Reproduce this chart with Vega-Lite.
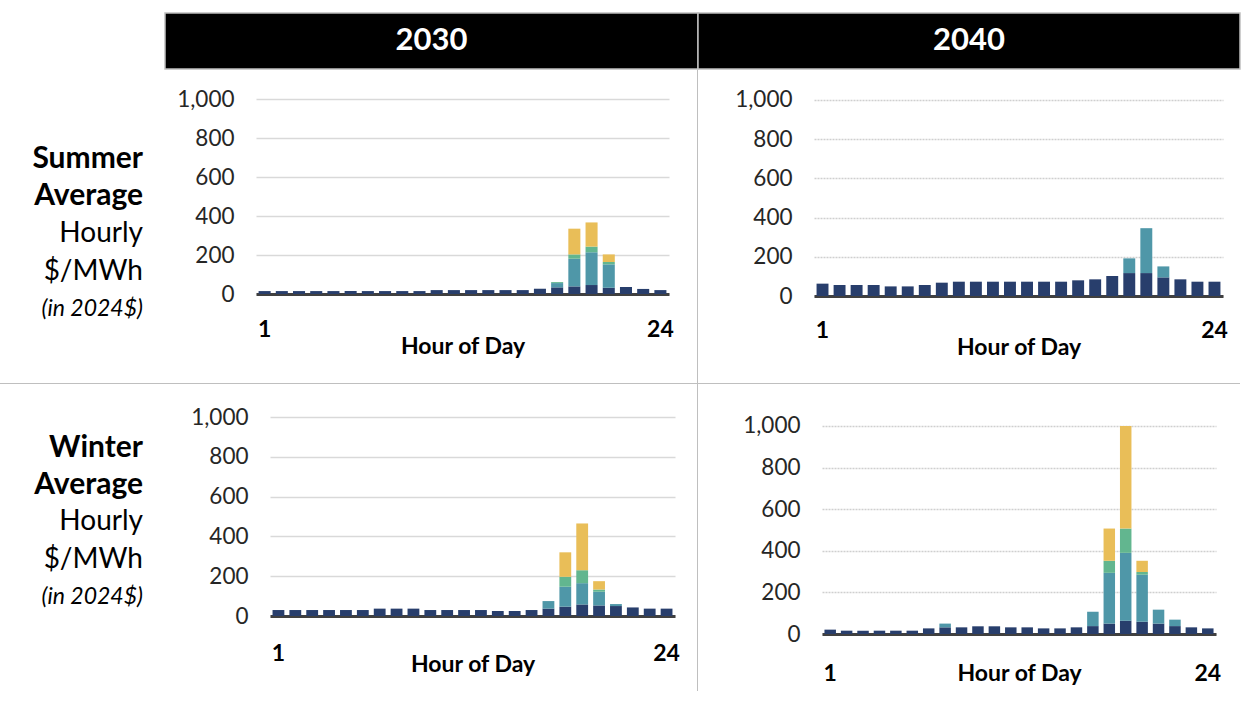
{
  "$schema": "https://vega.github.io/schema/vega-lite/v6.json",
  "padding": {"left": 0, "top": 12, "right": 0, "bottom": 0},
  "autosize": {"type": "pad"},
  "background": "white",
  "config": {
    "font": "Lato",
    "view": {"stroke": null},
    "axisX": {"labelFontSize": 23, "labelFontWeight": "bold", "labelColor": "#000000", "labelAngle": 0, "ticks": false, "grid": false, "domainColor": "#404040", "domainWidth": 3, "titleFontSize": 23, "titleFontWeight": "bold", "titleColor": "#000000", "zindex": 1},
    "axisY": {"labelFontSize": 22.5, "labelColor": "#262626", "labelPadding": 22, "ticks": false, "domain": false, "gridColor": "#D9D9D9", "gridWidth": 1.5}
  },
  "datasets": {
    "headers": [{"year": "2030"}, {"year": "2040"}],
    "rowlabels": [
      {"row": "Summer", "line": 1, "text": "Summer", "part": "head"},
      {"row": "Summer", "line": 2, "text": "Average", "part": "head"},
      {"row": "Summer", "line": 3, "text": "Hourly", "part": "unit"},
      {"row": "Summer", "line": 4, "text": "$/MWh", "part": "unit"},
      {"row": "Summer", "line": 5, "text": "(in 2024$)", "part": "note"},
      {"row": "Winter", "line": 1, "text": "Winter", "part": "head"},
      {"row": "Winter", "line": 2, "text": "Average", "part": "head"},
      {"row": "Winter", "line": 3, "text": "Hourly", "part": "unit"},
      {"row": "Winter", "line": 4, "text": "$/MWh", "part": "unit"},
      {"row": "Winter", "line": 5, "text": "(in 2024$)", "part": "note"}
    ],
    "prices": [
      {"panel": "Summer 2030", "hour": 1, "component": "Base Energy", "value": 15},
      {"panel": "Summer 2030", "hour": 2, "component": "Base Energy", "value": 15},
      {"panel": "Summer 2030", "hour": 3, "component": "Base Energy", "value": 15},
      {"panel": "Summer 2030", "hour": 4, "component": "Base Energy", "value": 15},
      {"panel": "Summer 2030", "hour": 5, "component": "Base Energy", "value": 15},
      {"panel": "Summer 2030", "hour": 6, "component": "Base Energy", "value": 15},
      {"panel": "Summer 2030", "hour": 7, "component": "Base Energy", "value": 15},
      {"panel": "Summer 2030", "hour": 8, "component": "Base Energy", "value": 15},
      {"panel": "Summer 2030", "hour": 9, "component": "Base Energy", "value": 15},
      {"panel": "Summer 2030", "hour": 10, "component": "Base Energy", "value": 15},
      {"panel": "Summer 2030", "hour": 11, "component": "Base Energy", "value": 20},
      {"panel": "Summer 2030", "hour": 12, "component": "Base Energy", "value": 20},
      {"panel": "Summer 2030", "hour": 13, "component": "Base Energy", "value": 20},
      {"panel": "Summer 2030", "hour": 14, "component": "Base Energy", "value": 20},
      {"panel": "Summer 2030", "hour": 15, "component": "Base Energy", "value": 20},
      {"panel": "Summer 2030", "hour": 16, "component": "Base Energy", "value": 20},
      {"panel": "Summer 2030", "hour": 17, "component": "Base Energy", "value": 27},
      {"panel": "Summer 2030", "hour": 18, "component": "Base Energy", "value": 34},
      {"panel": "Summer 2030", "hour": 18, "component": "Capacity", "value": 22},
      {"panel": "Summer 2030", "hour": 18, "component": "Reserves", "value": 5},
      {"panel": "Summer 2030", "hour": 19, "component": "Base Energy", "value": 39},
      {"panel": "Summer 2030", "hour": 19, "component": "Capacity", "value": 142},
      {"panel": "Summer 2030", "hour": 19, "component": "Reserves", "value": 22},
      {"panel": "Summer 2030", "hour": 19, "component": "Scarcity", "value": 132},
      {"panel": "Summer 2030", "hour": 20, "component": "Base Energy", "value": 46},
      {"panel": "Summer 2030", "hour": 20, "component": "Capacity", "value": 168},
      {"panel": "Summer 2030", "hour": 20, "component": "Reserves", "value": 29},
      {"panel": "Summer 2030", "hour": 20, "component": "Scarcity", "value": 124},
      {"panel": "Summer 2030", "hour": 21, "component": "Base Energy", "value": 32},
      {"panel": "Summer 2030", "hour": 21, "component": "Capacity", "value": 120},
      {"panel": "Summer 2030", "hour": 21, "component": "Reserves", "value": 12},
      {"panel": "Summer 2030", "hour": 21, "component": "Scarcity", "value": 39},
      {"panel": "Summer 2030", "hour": 22, "component": "Base Energy", "value": 36},
      {"panel": "Summer 2030", "hour": 23, "component": "Base Energy", "value": 26},
      {"panel": "Summer 2030", "hour": 24, "component": "Base Energy", "value": 20},

      {"panel": "Summer 2040", "hour": 1, "component": "Base Energy", "value": 63},
      {"panel": "Summer 2040", "hour": 2, "component": "Base Energy", "value": 56},
      {"panel": "Summer 2040", "hour": 3, "component": "Base Energy", "value": 56},
      {"panel": "Summer 2040", "hour": 4, "component": "Base Energy", "value": 56},
      {"panel": "Summer 2040", "hour": 5, "component": "Base Energy", "value": 49},
      {"panel": "Summer 2040", "hour": 6, "component": "Base Energy", "value": 49},
      {"panel": "Summer 2040", "hour": 7, "component": "Base Energy", "value": 56},
      {"panel": "Summer 2040", "hour": 8, "component": "Base Energy", "value": 68},
      {"panel": "Summer 2040", "hour": 9, "component": "Base Energy", "value": 73},
      {"panel": "Summer 2040", "hour": 10, "component": "Base Energy", "value": 73},
      {"panel": "Summer 2040", "hour": 11, "component": "Base Energy", "value": 73},
      {"panel": "Summer 2040", "hour": 12, "component": "Base Energy", "value": 73},
      {"panel": "Summer 2040", "hour": 13, "component": "Base Energy", "value": 73},
      {"panel": "Summer 2040", "hour": 14, "component": "Base Energy", "value": 73},
      {"panel": "Summer 2040", "hour": 15, "component": "Base Energy", "value": 73},
      {"panel": "Summer 2040", "hour": 16, "component": "Base Energy", "value": 80},
      {"panel": "Summer 2040", "hour": 17, "component": "Base Energy", "value": 85},
      {"panel": "Summer 2040", "hour": 18, "component": "Base Energy", "value": 102},
      {"panel": "Summer 2040", "hour": 19, "component": "Base Energy", "value": 117},
      {"panel": "Summer 2040", "hour": 19, "component": "Capacity", "value": 75},
      {"panel": "Summer 2040", "hour": 20, "component": "Base Energy", "value": 117},
      {"panel": "Summer 2040", "hour": 20, "component": "Capacity", "value": 229},
      {"panel": "Summer 2040", "hour": 21, "component": "Base Energy", "value": 95},
      {"panel": "Summer 2040", "hour": 21, "component": "Capacity", "value": 56},
      {"panel": "Summer 2040", "hour": 22, "component": "Base Energy", "value": 85},
      {"panel": "Summer 2040", "hour": 23, "component": "Base Energy", "value": 73},
      {"panel": "Summer 2040", "hour": 24, "component": "Base Energy", "value": 73},

      {"panel": "Winter 2030", "hour": 1, "component": "Base Energy", "value": 30},
      {"panel": "Winter 2030", "hour": 2, "component": "Base Energy", "value": 30},
      {"panel": "Winter 2030", "hour": 3, "component": "Base Energy", "value": 30},
      {"panel": "Winter 2030", "hour": 4, "component": "Base Energy", "value": 30},
      {"panel": "Winter 2030", "hour": 5, "component": "Base Energy", "value": 30},
      {"panel": "Winter 2030", "hour": 6, "component": "Base Energy", "value": 30},
      {"panel": "Winter 2030", "hour": 7, "component": "Base Energy", "value": 37},
      {"panel": "Winter 2030", "hour": 8, "component": "Base Energy", "value": 37},
      {"panel": "Winter 2030", "hour": 9, "component": "Base Energy", "value": 37},
      {"panel": "Winter 2030", "hour": 10, "component": "Base Energy", "value": 30},
      {"panel": "Winter 2030", "hour": 11, "component": "Base Energy", "value": 30},
      {"panel": "Winter 2030", "hour": 12, "component": "Base Energy", "value": 30},
      {"panel": "Winter 2030", "hour": 13, "component": "Base Energy", "value": 30},
      {"panel": "Winter 2030", "hour": 14, "component": "Base Energy", "value": 25},
      {"panel": "Winter 2030", "hour": 15, "component": "Base Energy", "value": 25},
      {"panel": "Winter 2030", "hour": 16, "component": "Base Energy", "value": 30},
      {"panel": "Winter 2030", "hour": 17, "component": "Base Energy", "value": 37},
      {"panel": "Winter 2030", "hour": 17, "component": "Capacity", "value": 38},
      {"panel": "Winter 2030", "hour": 18, "component": "Base Energy", "value": 47},
      {"panel": "Winter 2030", "hour": 18, "component": "Capacity", "value": 100},
      {"panel": "Winter 2030", "hour": 18, "component": "Reserves", "value": 50},
      {"panel": "Winter 2030", "hour": 18, "component": "Scarcity", "value": 123},
      {"panel": "Winter 2030", "hour": 19, "component": "Base Energy", "value": 58},
      {"panel": "Winter 2030", "hour": 19, "component": "Capacity", "value": 107},
      {"panel": "Winter 2030", "hour": 19, "component": "Reserves", "value": 65},
      {"panel": "Winter 2030", "hour": 19, "component": "Scarcity", "value": 235},
      {"panel": "Winter 2030", "hour": 20, "component": "Base Energy", "value": 53},
      {"panel": "Winter 2030", "hour": 20, "component": "Capacity", "value": 69},
      {"panel": "Winter 2030", "hour": 20, "component": "Reserves", "value": 11},
      {"panel": "Winter 2030", "hour": 20, "component": "Scarcity", "value": 42},
      {"panel": "Winter 2030", "hour": 21, "component": "Base Energy", "value": 50},
      {"panel": "Winter 2030", "hour": 21, "component": "Capacity", "value": 10},
      {"panel": "Winter 2030", "hour": 22, "component": "Base Energy", "value": 43},
      {"panel": "Winter 2030", "hour": 23, "component": "Base Energy", "value": 37},
      {"panel": "Winter 2030", "hour": 24, "component": "Base Energy", "value": 37},

      {"panel": "Winter 2040", "hour": 1, "component": "Base Energy", "value": 21},
      {"panel": "Winter 2040", "hour": 2, "component": "Base Energy", "value": 16},
      {"panel": "Winter 2040", "hour": 3, "component": "Base Energy", "value": 16},
      {"panel": "Winter 2040", "hour": 4, "component": "Base Energy", "value": 16},
      {"panel": "Winter 2040", "hour": 5, "component": "Base Energy", "value": 16},
      {"panel": "Winter 2040", "hour": 6, "component": "Base Energy", "value": 16},
      {"panel": "Winter 2040", "hour": 7, "component": "Base Energy", "value": 27},
      {"panel": "Winter 2040", "hour": 8, "component": "Base Energy", "value": 32},
      {"panel": "Winter 2040", "hour": 8, "component": "Capacity", "value": 18},
      {"panel": "Winter 2040", "hour": 9, "component": "Base Energy", "value": 32},
      {"panel": "Winter 2040", "hour": 10, "component": "Base Energy", "value": 37},
      {"panel": "Winter 2040", "hour": 11, "component": "Base Energy", "value": 37},
      {"panel": "Winter 2040", "hour": 12, "component": "Base Energy", "value": 32},
      {"panel": "Winter 2040", "hour": 13, "component": "Base Energy", "value": 32},
      {"panel": "Winter 2040", "hour": 14, "component": "Base Energy", "value": 27},
      {"panel": "Winter 2040", "hour": 15, "component": "Base Energy", "value": 27},
      {"panel": "Winter 2040", "hour": 16, "component": "Base Energy", "value": 32},
      {"panel": "Winter 2040", "hour": 17, "component": "Base Energy", "value": 38},
      {"panel": "Winter 2040", "hour": 17, "component": "Capacity", "value": 69},
      {"panel": "Winter 2040", "hour": 18, "component": "Base Energy", "value": 50},
      {"panel": "Winter 2040", "hour": 18, "component": "Capacity", "value": 244},
      {"panel": "Winter 2040", "hour": 18, "component": "Reserves", "value": 58},
      {"panel": "Winter 2040", "hour": 18, "component": "Scarcity", "value": 155},
      {"panel": "Winter 2040", "hour": 19, "component": "Base Energy", "value": 64},
      {"panel": "Winter 2040", "hour": 19, "component": "Capacity", "value": 326},
      {"panel": "Winter 2040", "hour": 19, "component": "Reserves", "value": 117},
      {"panel": "Winter 2040", "hour": 19, "component": "Scarcity", "value": 493},
      {"panel": "Winter 2040", "hour": 20, "component": "Base Energy", "value": 59},
      {"panel": "Winter 2040", "hour": 20, "component": "Capacity", "value": 226},
      {"panel": "Winter 2040", "hour": 20, "component": "Reserves", "value": 13},
      {"panel": "Winter 2040", "hour": 20, "component": "Scarcity", "value": 54},
      {"panel": "Winter 2040", "hour": 21, "component": "Base Energy", "value": 50},
      {"panel": "Winter 2040", "hour": 21, "component": "Capacity", "value": 67},
      {"panel": "Winter 2040", "hour": 22, "component": "Base Energy", "value": 38},
      {"panel": "Winter 2040", "hour": 22, "component": "Capacity", "value": 31},
      {"panel": "Winter 2040", "hour": 23, "component": "Base Energy", "value": 32},
      {"panel": "Winter 2040", "hour": 24, "component": "Base Energy", "value": 27}
    ]
  },
  "vconcat": [
    {
      "hconcat": [
        {"width": 165, "height": 56, "data": {"values": [{}]}, "mark": {"type": "rect", "opacity": 0}, "encoding": {}},
        {"width": 533, "height": 56, "view": {"fill": "#000000", "stroke": "#BFBFBF", "strokeWidth": 1.5}, "data": {"name": "headers"}, "transform": [{"filter": "datum.year == '2030'"}], "mark": {"type": "text", "color": "#FFFFFF", "fontSize": 31, "fontWeight": "bold"}, "encoding": {"text": {"field": "year"}}},
        {"width": 542, "height": 56, "view": {"fill": "#000000", "stroke": "#BFBFBF", "strokeWidth": 1.5}, "data": {"name": "headers"}, "transform": [{"filter": "datum.year == '2040'"}], "mark": {"type": "text", "color": "#FFFFFF", "fontSize": 31, "fontWeight": "bold"}, "encoding": {"text": {"field": "year"}}}
      ],
      "spacing": 0,
      "bounds": "flush"
    },
    {
      "hconcat": [
        {"width": 143, "height": 313, "data": {"name": "rowlabels"}, "transform": [{"filter": "datum.row == 'Summer'"}],
         "encoding": {"y": {"field": "line", "type": "quantitative", "scale": {"domain": [-1.3733, 6.9733], "reverse": true, "nice": false, "zero": false}, "axis": null}, "x": {"datum": 1, "type": "quantitative", "scale": {"domain": [0, 1]}, "axis": null}, "text": {"field": "text"}},
         "layer": [
           {"transform": [{"filter": "datum.part == 'head'"}], "mark": {"type": "text", "align": "right", "fontSize": 30, "fontWeight": "bold", "color": "#000000"}},
           {"transform": [{"filter": "datum.part == 'unit'"}], "mark": {"type": "text", "align": "right", "fontSize": 28, "color": "#000000"}},
           {"transform": [{"filter": "datum.part == 'note'"}], "mark": {"type": "text", "align": "right", "fontSize": 23, "fontStyle": "italic", "color": "#000000"}}
         ]},
        {"width": 113, "height": 1, "data": {"values": [{}]}, "mark": {"type": "rect", "opacity": 0}, "encoding": {}},
        {"width": 413, "height": 224, "data": {"name": "prices"}, "transform": [{"filter": "datum.panel == 'Summer 2030'"}], "mark": {"type": "bar"},
         "encoding": {
           "x": {"field": "hour", "type": "ordinal", "scale": {"domain": [1,2,3,4,5,6,7,8,9,10,11,12,13,14,15,16,17,18,19,20,21,22,23,24], "paddingInner": 0.3, "paddingOuter": 0.15}, "axis": {"values": [1, 24], "labelPadding": 24, "titlePadding": -6, "title": "Hour of Day"}},
           "y": {"field": "value", "type": "quantitative", "stack": "zero", "scale": {"domain": [0, 1148.72], "nice": false}, "axis": {"values": [0, 200, 400, 600, 800, 1000], "format": ",.0f", "title": null}},
           "color": {"field": "component", "type": "nominal", "scale": {"domain": ["Base Energy", "Capacity", "Reserves", "Scarcity"], "range": ["#283E6C", "#4F97A8", "#62B68F", "#E9BE58"]}, "legend": null},
           "order": {"field": "component", "sort": "ascending"}
         }},
        {"width": 28, "height": 1, "data": {"values": [{}]}, "mark": {"type": "rect", "opacity": 0}, "encoding": {}},
        {"width": 1, "height": 313, "view": {"fill": "#BFBFBF"}, "data": {"values": [{}]}, "mark": {"type": "rect", "opacity": 0}, "encoding": {}},
        {"width": 116, "height": 1, "data": {"values": [{}]}, "mark": {"type": "rect", "opacity": 0}, "encoding": {}},
        {"width": 409, "height": 226, "data": {"name": "prices"}, "transform": [{"filter": "datum.panel == 'Summer 2040'"}], "mark": {"type": "bar"},
         "encoding": {
           "x": {"field": "hour", "type": "ordinal", "scale": {"domain": [1,2,3,4,5,6,7,8,9,10,11,12,13,14,15,16,17,18,19,20,21,22,23,24], "paddingInner": 0.3, "paddingOuter": 0.15}, "axis": {"values": [1, 24], "labelPadding": 23, "titlePadding": -6, "title": "Hour of Day"}},
           "y": {"field": "value", "type": "quantitative", "stack": "zero", "scale": {"domain": [0, 1153.06], "nice": false}, "axis": {"values": [0, 200, 400, 600, 800, 1000], "format": ",.0f", "title": null, "gridDash": [2, 1], "gridColor": "#CFCFCF"}},
           "color": {"field": "component", "type": "nominal", "scale": {"domain": ["Base Energy", "Capacity", "Reserves", "Scarcity"], "range": ["#283E6C", "#4F97A8", "#62B68F", "#E9BE58"]}, "legend": null},
           "order": {"field": "component", "sort": "ascending"}
         }}
      ],
      "spacing": 0,
      "bounds": "flush"
    },
    {"width": 1240, "height": 1, "view": {"fill": "#BFBFBF"}, "data": {"values": [{}]}, "mark": {"type": "rect", "opacity": 0}, "encoding": {}},
    {
      "hconcat": [
        {"width": 143, "height": 307, "data": {"name": "rowlabels"}, "transform": [{"filter": "datum.row == 'Winter'"}],
         "encoding": {"y": {"field": "line", "type": "quantitative", "scale": {"domain": [-0.7181, 7.5235], "reverse": true, "nice": false, "zero": false}, "axis": null}, "x": {"datum": 1, "type": "quantitative", "scale": {"domain": [0, 1]}, "axis": null}, "text": {"field": "text"}},
         "layer": [
           {"transform": [{"filter": "datum.part == 'head'"}], "mark": {"type": "text", "align": "right", "fontSize": 30, "fontWeight": "bold", "color": "#000000"}},
           {"transform": [{"filter": "datum.part == 'unit'"}], "mark": {"type": "text", "align": "right", "fontSize": 28, "color": "#000000"}},
           {"transform": [{"filter": "datum.part == 'note'"}], "mark": {"type": "text", "align": "right", "fontSize": 23, "fontStyle": "italic", "color": "#000000"}}
         ]},
        {"width": 127, "height": 1, "data": {"values": [{}]}, "mark": {"type": "rect", "opacity": 0}, "encoding": {}},
        {"width": 405, "height": 232, "data": {"name": "prices"}, "transform": [{"filter": "datum.panel == 'Winter 2030'"}], "mark": {"type": "bar"},
         "encoding": {
           "x": {"field": "hour", "type": "ordinal", "scale": {"domain": [1,2,3,4,5,6,7,8,9,10,11,12,13,14,15,16,17,18,19,20,21,22,23,24], "paddingInner": 0.3, "paddingOuter": 0.15}, "axis": {"values": [1, 24], "labelPadding": 26, "titlePadding": -12, "title": "Hour of Day"}},
           "y": {"field": "value", "type": "quantitative", "stack": "zero", "scale": {"domain": [0, 1165.83], "nice": false}, "axis": {"values": [0, 200, 400, 600, 800, 1000], "format": ",.0f", "title": null}},
           "color": {"field": "component", "type": "nominal", "scale": {"domain": ["Base Energy", "Capacity", "Reserves", "Scarcity"], "range": ["#283E6C", "#4F97A8", "#62B68F", "#E9BE58"]}, "legend": null},
           "order": {"field": "component", "sort": "ascending"}
         }},
        {"width": 22, "height": 1, "data": {"values": [{}]}, "mark": {"type": "rect", "opacity": 0}, "encoding": {}},
        {"width": 1, "height": 307, "view": {"fill": "#BFBFBF"}, "data": {"values": [{}]}, "mark": {"type": "rect", "opacity": 0}, "encoding": {}},
        {"width": 124, "height": 1, "data": {"values": [{}]}, "mark": {"type": "rect", "opacity": 0}, "encoding": {}},
        {"width": 394, "height": 250, "data": {"name": "prices"}, "transform": [{"filter": "datum.panel == 'Winter 2040'"}], "mark": {"type": "bar"},
         "encoding": {
           "x": {"field": "hour", "type": "ordinal", "scale": {"domain": [1,2,3,4,5,6,7,8,9,10,11,12,13,14,15,16,17,18,19,20,21,22,23,24], "paddingInner": 0.3, "paddingOuter": 0.15}, "axis": {"values": [1, 24], "labelPadding": 28, "titlePadding": -23, "title": "Hour of Day"}},
           "y": {"field": "value", "type": "quantitative", "stack": "zero", "scale": {"domain": [0, 1201.92], "nice": false}, "axis": {"values": [0, 200, 400, 600, 800, 1000], "format": ",.0f", "title": null, "gridDash": [2, 1], "gridColor": "#CFCFCF"}},
           "color": {"field": "component", "type": "nominal", "scale": {"domain": ["Base Energy", "Capacity", "Reserves", "Scarcity"], "range": ["#283E6C", "#4F97A8", "#62B68F", "#E9BE58"]}, "legend": null},
           "order": {"field": "component", "sort": "ascending"}
         }}
      ],
      "spacing": 0,
      "bounds": "flush"
    }
  ],
  "spacing": 0
}
